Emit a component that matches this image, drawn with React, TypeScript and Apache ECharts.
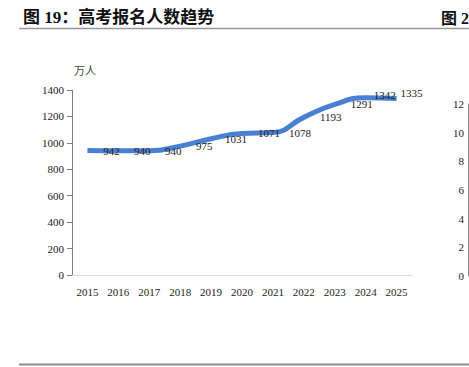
import React, { useEffect, useRef } from "react";
import * as echarts from "echarts";

const years = ["2015", "2016", "2017", "2018", "2019", "2020", "2021", "2022", "2023", "2024", "2025"];
const applicants = [942, 940, 940, 975, 1031, 1071, 1078, 1193, 1291, 1342, 1335];
const leftTicks = { min: 0, max: 1400, interval: 200 };
const rightTicks = { min: 0, max: 12, interval: 2 };
const labelOffsets: [number, number][] = [
  [24, 0], [24, 0], [24, 0], [24, 0], [25, 0], [27, 0], [27, 0], [27, 0], [27, 0], [19, -3], [15, -6],
];

const SERIF = "'Liberation Serif', 'Times New Roman', 'Noto Sans CJK SC', serif";

export default function App() {
  const ref = useRef<HTMLDivElement>(null);
  useEffect(() => {
    if (!ref.current) return;
    const chart = echarts.init(ref.current, undefined, { renderer: "svg" });
    chart.setOption({
      animation: false,
      backgroundColor: "#ffffff",
      grid: [
        { left: 72, right: 57, top: 90, bottom: 92 },
        { left: 468, width: 1, top: 104, bottom: 91 },
      ],
      xAxis: [
        {
          type: "category",
          gridIndex: 0,
          data: years,
          boundaryGap: true,
          axisLine: { show: true, lineStyle: { color: "#d9d9d9", width: 1 } },
          axisTick: { show: false },
          axisLabel: { color: "#222", fontFamily: SERIF, fontSize: 11, margin: 11 },
        },
        {
          type: "category",
          gridIndex: 1,
          data: [""],
          show: false,
        },
      ],
      yAxis: [
        {
          type: "value",
          gridIndex: 0,
          ...leftTicks,
          axisLine: { show: true, lineStyle: { color: "#7f7f7f", width: 1 } },
          axisTick: { show: true, inside: false, length: 5, lineStyle: { color: "#7f7f7f" } },
          splitLine: { show: false },
          axisLabel: { color: "#222", fontFamily: SERIF, fontSize: 11, margin: 8, formatter: (v: number) => String(v) },
        },
        {
          type: "value",
          gridIndex: 1,
          ...rightTicks,
          axisLine: { show: true, lineStyle: { color: "#8c8c8c", width: 1 } },
          axisTick: { show: false },
          splitLine: { show: false },
          axisLabel: { color: "#222", fontFamily: SERIF, fontSize: 11, margin: 4, formatter: (v: number) => String(v) },
        },
      ],
      series: [
        {
          type: "line",
          xAxisIndex: 0,
          yAxisIndex: 0,
          smooth: 0.5,
          symbol: "circle",
          symbolSize: 1,
          showSymbol: true,
          itemStyle: { color: "rgba(0,0,0,0)", borderWidth: 0 },
          lineStyle: { color: "#4a80d3", width: 5 },
          data: applicants.map((v, i) => ({
            value: v,
            label: { offset: labelOffsets[i] },
          })),
          label: {
            show: true,
            position: "inside",
            color: "#222",
            fontFamily: SERIF,
            fontSize: 11,
            formatter: (p: any) => String(p.value),
          },
        },
      ],
      graphic: [
        {
          type: "text",
          left: 23,
          top: 9,
          style: {
            text: "图 19：高考报名人数趋势",
            font: "bold 17px 'Liberation Serif', 'Noto Sans CJK SC', serif",
            fill: "#111",
          },
        },
        {
          type: "text",
          left: 441,
          top: 10,
          style: {
            text: "图 2",
            font: "bold 16px 'Liberation Serif', 'Noto Sans CJK SC', serif",
            fill: "#111",
          },
        },
        {
          type: "line",
          shape: { x1: 19, y1: 28.5, x2: 469, y2: 28.5 },
          style: { stroke: "#999", lineWidth: 1.5 },
        },
        {
          type: "line",
          shape: { x1: 19, y1: 364.5, x2: 469, y2: 364.5 },
          style: { stroke: "#8c8c8c", lineWidth: 2 },
        },
        {
          type: "text",
          left: 74,
          top: 64,
          style: {
            text: "万人",
            font: "11px 'Noto Sans CJK SC', serif",
            fill: "#444",
          },
        },
      ],
    });
    return () => chart.dispose();
  }, []);
  return (
    <div
      ref={ref}
      style={{ position: "fixed", left: 0, top: 0, width: 469, height: 367 }}
    />
  );
}
